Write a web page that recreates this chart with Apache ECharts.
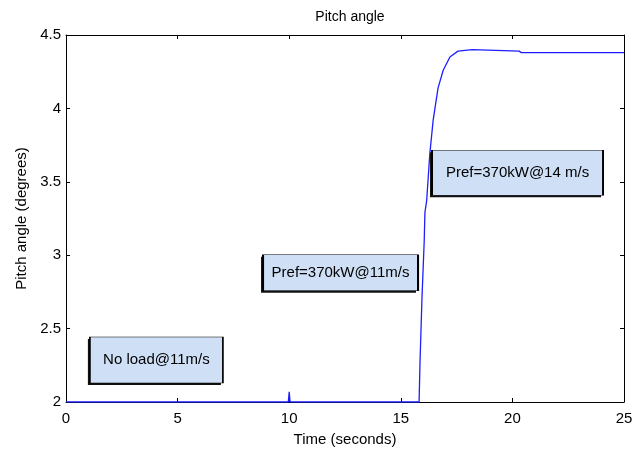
<!DOCTYPE html>
<html>
<head>
<meta charset="utf-8">
<script src="https://cdn.jsdelivr.net/npm/echarts@6/dist/echarts.min.js"></script>
<style>html,body{margin:0;padding:0;background:#fff}#c{width:640px;height:455px}</style>
</head>
<body>
<div id="c"></div>
<script>
// Time (s) and pitch angle (deg)
const timeS = [0, 9.96, 10.0, 10.04, 15.82, 15.86, 15.95, 16.05, 16.08, 16.16, 16.3, 16.45, 16.67, 16.9, 17.2, 17.56, 18.2, 20.3, 20.4, 25];
const pitchDeg = [2, 2, 2.07, 2, 2, 2.265, 2.714, 3.10, 3.29, 3.374, 3.69, 3.92, 4.14, 4.26, 4.35, 4.39, 4.40, 4.39, 4.38, 4.38];
const xTicks = [0, 5, 10, 15, 20, 25];
const yTicks = [2, 2.5, 3, 3.5, 4, 4.5];
const noteTexts = ['Pref=370kW@14 m/s', 'Pref=370kW@11m/s', 'No load@11m/s'];
const noteTime = [20.23, 12.30, 4.05];
const notePitch = [3.561, 2.881, 2.286];
const noteSizes = [[171, 45], [155, 36], [133, 46]];

const font = 'Liberation Sans, Arial, sans-serif';
const chart = echarts.init(document.getElementById('c'), null, {renderer: 'canvas'});
const lineData = timeS.map((t, i) => [t, pitchDeg[i]]);
const shadows = noteTexts.map((s, i) => ({
  coord: [noteTime[i], notePitch[i]],
  value: '',
  symbolSize: noteSizes[i],
  symbolOffset: [-2, 2],
  itemStyle: {color: '#111', borderWidth: 0},
  label: {show: false},
  z: 1
}));
const notes = noteTexts.map((s, i) => ({
  coord: [noteTime[i], notePitch[i]],
  value: s,
  symbolSize: noteSizes[i],
  symbolOffset: [0, 0]
}));
const axisCommon = {
  type: 'value',
  axisLine: {show: true, onZero: false, lineStyle: {color: '#000', width: 1}},
  axisTick: {show: true, inside: true, length: 4, lineStyle: {color: '#000'}},
  splitLine: {show: false}
};
chart.setOption({
  animation: false,
  backgroundColor: '#fff',
  title: {
    text: 'Pitch angle', left: 345, top: 5, textAlign: 'center',
    textStyle: {fontFamily: font, fontSize: 14, fontWeight: 'normal', color: '#000'}
  },
  grid: {left: 66, right: 16, top: 35, bottom: 53},
  xAxis: [
    Object.assign({}, axisCommon, {
      min: xTicks[0], max: xTicks[xTicks.length - 1], interval: 5,
      name: 'Time (seconds)', nameLocation: 'middle', nameGap: 30,
      nameTextStyle: {fontFamily: font, fontSize: 15, color: '#000'},
      axisLabel: {fontFamily: font, fontSize: 15, color: '#000', margin: 9}
    }),
    Object.assign({}, axisCommon, {
      position: 'top', min: xTicks[0], max: xTicks[xTicks.length - 1], interval: 5,
      axisLabel: {show: false}
    })
  ],
  yAxis: [
    Object.assign({}, axisCommon, {
      min: yTicks[0], max: yTicks[yTicks.length - 1], interval: 0.5,
      name: 'Pitch angle (degrees)', nameLocation: 'middle', nameGap: 36,
      nameTextStyle: {fontFamily: font, fontSize: 15, color: '#000'},
      axisLabel: {fontFamily: font, fontSize: 15, color: '#000', margin: 5}
    }),
    Object.assign({}, axisCommon, {
      position: 'right', min: yTicks[0], max: yTicks[yTicks.length - 1], interval: 0.5,
      axisLabel: {show: false}
    })
  ],
  series: [{
    type: 'line',
    data: lineData,
    showSymbol: false,
    symbol: 'none',
    lineStyle: {color: '#1e1eff', width: 1.3},
    z: 3,
    markPoint: {
      symbol: 'rect',
      silent: true,
      itemStyle: {color: '#cfe0f6', borderColor: '#000', borderWidth: 1},
      label: {
        show: true, position: 'inside', color: '#000',
        fontFamily: font, fontSize: 15,
        formatter: p => p.value
      },
      data: shadows.concat(notes)
    }
  }]
});
</script>
</body>
</html>
